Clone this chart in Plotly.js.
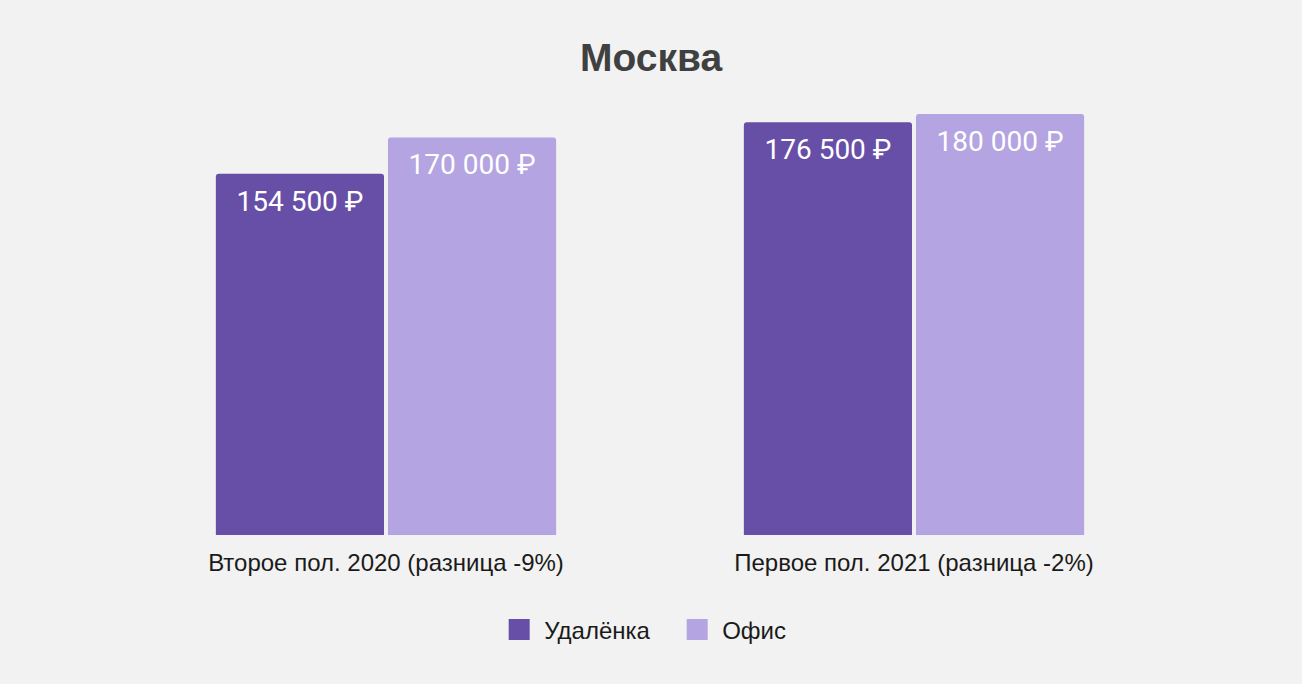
<!DOCTYPE html>
<html><head><meta charset="utf-8">
<script src="https://cdn.plot.ly/plotly-3.0.1.min.js"></script>
<style>html,body{margin:0;padding:0;background:#f2f2f2}</style></head>
<body><div id="chart" style="width:1302px;height:684px"></div>
<script>
const categories = ['Второе пол. 2020 (разница -9%)', 'Первое пол. 2021 (разница -2%)'];
const remoteValues = [154500, 176500];
const officeValues = [170000, 180000];
const seriesNames = ['Удалёнка', 'Офис'];
const seriesColors = ['#674fa7', '#b4a4e2'];
const chartTitle = 'Москва';

function fmt(v) { return String(v).replace(/\B(?=(\d{3})+(?!\d))/g, '\u00a0') + '\u00a0₽'; }

const series = [remoteValues, officeValues];
const traces = [];
series.forEach((vals, i) => {
  traces.push({
    type: 'bar', x: categories, y: vals, name: seriesNames[i],
    offsetgroup: 'g' + i, marker: {color: seriesColors[i]},
    showlegend: false, hoverinfo: 'skip'
  });
});
series.forEach((vals, i) => {
  traces.push({
    type: 'scatter', mode: 'markers+text', x: categories, y: vals,
    offsetgroup: 'g' + i, alignmentgroup: 'labels',
    marker: {size: 24, opacity: 0, color: seriesColors[i]},
    text: vals.map(fmt), textposition: 'bottom center',
    textfont: {family: 'Roboto', size: 28, color: '#ffffff'},
    showlegend: false, hoverinfo: 'skip', cliponaxis: false
  });
});
series.forEach((vals, i) => {
  traces.push({
    type: 'scatter', mode: 'markers', x: [null], y: [null], name: seriesNames[i],
    xaxis: 'x2', yaxis: 'y2',
    marker: {symbol: 'square', size: 16, color: seriesColors[i], line: {color: seriesColors[i], width: 5}},
    hoverinfo: 'skip'
  });
});

const layout = {
  width: 1302, height: 684,
  paper_bgcolor: '#f2f2f2', plot_bgcolor: '#f2f2f2',
  margin: {l: 122, r: 124, t: 100, b: 149},
  title: {text: chartTitle, x: 0.5, xanchor: 'center', y: 0.916, yanchor: 'middle',
          font: {family: 'Liberation Sans, Arial, sans-serif', size: 39, color: '#404040', weight: 'bold'}},
  barmode: 'group', bargap: 0.348, bargroupgap: 0.023, barcornerradius: 3,
  scattermode: 'group', scattergap: 0.348,
  xaxis: {showgrid: false, zeroline: false, showline: false, ticks: '', ticklabelstandoff: 11,
          tickfont: {family: 'Liberation Sans, Arial, sans-serif', size: 24, color: '#1a1a1a'}},
  yaxis: {range: [0, 186000], showgrid: false, zeroline: false, showticklabels: false, ticks: ''},
  xaxis2: {visible: false, overlaying: 'x'},
  yaxis2: {visible: false, overlaying: 'y'},
  showlegend: true,
  legend: {orientation: 'h', x: 0.521, xanchor: 'center', yref: 'container', y: 0.079, yanchor: 'middle',
           itemwidth: 40, entrywidth: 123,
           font: {family: 'Liberation Sans, Arial, sans-serif', size: 24, color: '#1a1a1a'},
           itemclick: false, itemdoubleclick: false, bgcolor: 'rgba(0,0,0,0)'}
};

Plotly.newPlot('chart', traces, layout, {displayModeBar: false, staticPlot: true});
</script></body></html>
